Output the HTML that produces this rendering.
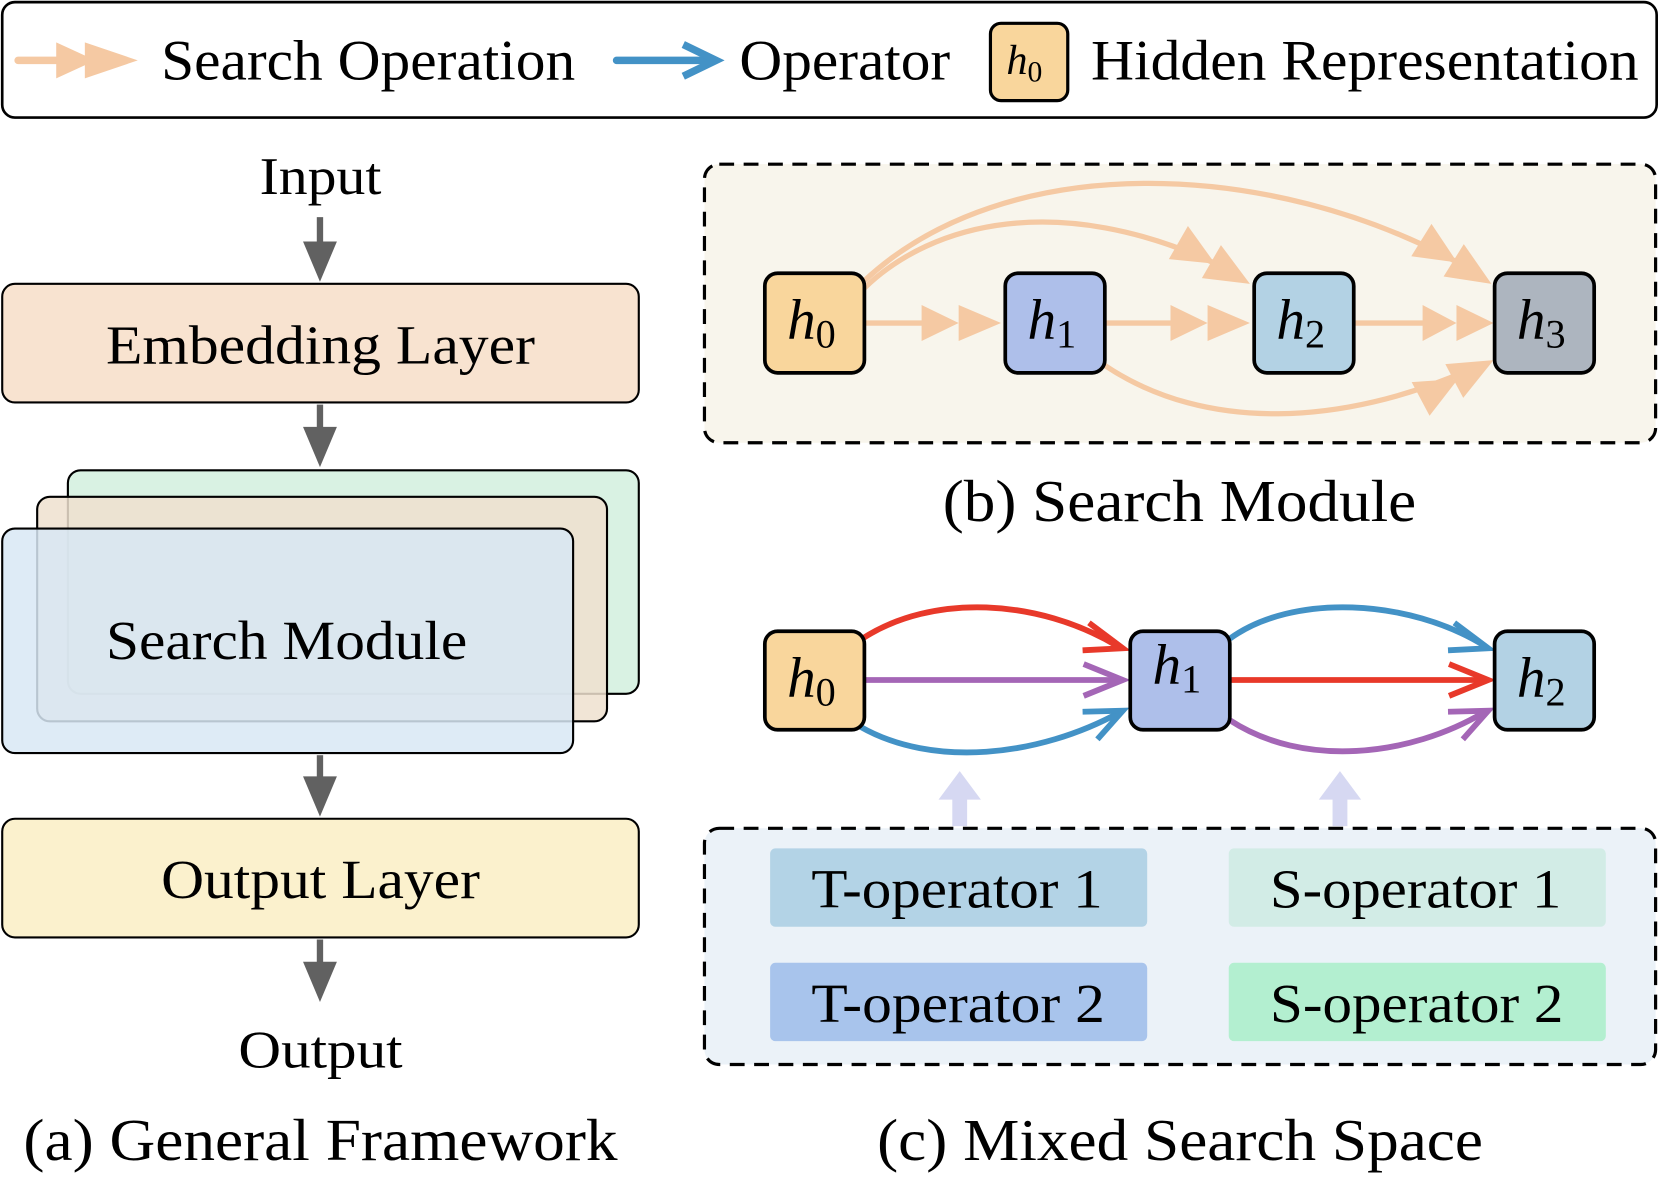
<!DOCTYPE html>
<html><head><meta charset="utf-8"><style>
html,body{margin:0;padding:0;background:#fff;}
svg{display:block;}
text{font-family:"Liberation Serif",serif;fill:#000;}
.it{font-style:italic;}
</style></head><body>
<svg width="1661" height="1199" viewBox="0 0 1568 1132" xmlns="http://www.w3.org/2000/svg">
<defs>
<g id="dbl"><polygon points="-78,-18 -38,0 -78,18" fill="#f5c9a3"/><polygon points="-42,-18 0,0 -42,18" fill="#f5c9a3"/></g>
</defs>
<!-- Legend -->
<rect x="2" y="2" width="1562" height="109" rx="12" fill="#fff" stroke="#000" stroke-width="2.5"/>
<line x1="17" y1="57" x2="60" y2="57" stroke="#f5c9a3" stroke-width="7" stroke-linecap="round"/>
<polygon points="53,40 90,57 53,74" fill="#f5c9a3"/>
<polygon points="80,40 130,57 80,74" fill="#f5c9a3"/>
<text x="152" y="75" font-size="54" textLength="391" lengthAdjust="spacingAndGlyphs">Search Operation</text>
<line x1="582" y1="57" x2="670" y2="57" stroke="#4392c6" stroke-width="7" stroke-linecap="round"/>
<polyline points="645,42 676,57 645,72" fill="none" stroke="#4392c6" stroke-width="7"/>
<text x="698" y="75" font-size="54" textLength="199" lengthAdjust="spacingAndGlyphs">Operator</text>
<rect x="935" y="22" width="73" height="73" rx="10" fill="#f9d69c" stroke="#000" stroke-width="3"/>
<text x="950" y="70" font-size="40" class="it">h<tspan font-size="28" font-style="normal" dy="7">0</tspan></text>
<text x="1030" y="75" font-size="54" textLength="517" lengthAdjust="spacingAndGlyphs">Hidden Representation</text>

<!-- (a) -->
<text x="245" y="183" font-size="50" textLength="115" lengthAdjust="spacingAndGlyphs">Input</text>
<g fill="#616161" stroke="#616161">
<line x1="302" y1="205" x2="302" y2="235" stroke-width="6"/><polygon points="286,228 318,228 302,266" stroke="none"/>
<line x1="302" y1="382" x2="302" y2="410" stroke-width="6"/><polygon points="286,403 318,403 302,441" stroke="none"/>
<line x1="302" y1="713" x2="302" y2="740" stroke-width="6"/><polygon points="286,733 318,733 302,771" stroke="none"/>
<line x1="302" y1="887" x2="302" y2="915" stroke-width="6"/><polygon points="286,908 318,908 302,946" stroke="none"/>
</g>
<rect x="2" y="268" width="601" height="112" rx="12" fill="#f8e3d0" stroke="#000" stroke-width="2"/>
<text x="100" y="343" font-size="52" textLength="405" lengthAdjust="spacingAndGlyphs">Embedding Layer</text>
<rect x="64" y="444" width="539" height="211" rx="12" fill="#d9f2e3" stroke="#000" stroke-width="2"/>
<rect x="35" y="469" width="538" height="212" rx="12" fill="#eee0cf" fill-opacity="0.85" stroke="#000" stroke-width="2"/>
<rect x="2" y="499" width="539" height="212" rx="12" fill="#d8e8f5" fill-opacity="0.85" stroke="#000" stroke-width="2"/>
<text x="100" y="622" font-size="52" textLength="341" lengthAdjust="spacingAndGlyphs">Search Module</text>
<rect x="2" y="773" width="601" height="112" rx="12" fill="#fbf1cd" stroke="#000" stroke-width="2"/>
<text x="152" y="848" font-size="52" textLength="301" lengthAdjust="spacingAndGlyphs">Output Layer</text>
<text x="225" y="1008" font-size="50" textLength="155" lengthAdjust="spacingAndGlyphs">Output</text>
<text x="22" y="1095" font-size="56" textLength="561" lengthAdjust="spacingAndGlyphs">(a) General Framework</text>

<!-- (b) -->
<rect x="665" y="155" width="898" height="263" rx="14" fill="#f8f5ec" stroke="#000" stroke-width="3" stroke-dasharray="14,9"/>
<g fill="none" stroke="#f5c9a3" stroke-width="5">
<line x1="816" y1="305" x2="880" y2="305"/>
<line x1="1043" y1="305" x2="1110" y2="305"/>
<line x1="1278" y1="305" x2="1345" y2="305"/>
<path d="M816,272 C880,210 1000,180 1150,250"/>
<path d="M816,265 C950,140 1200,150 1380,250"/>
<path d="M1043,345 C1140,410 1270,400 1385,350"/>
</g>
<g fill="#f5c9a3">
<polygon points="870,288 905,305 870,322"/><polygon points="905,288 945,305 905,322"/>
<polygon points="1105,288 1140,305 1105,322"/><polygon points="1140,288 1180,305 1140,322"/>
<polygon points="1343,288 1375,305 1343,322"/><polygon points="1375,288 1410,305 1375,322"/>
</g>
<use href="#dbl" transform="translate(1180,268) rotate(30)"/>
<use href="#dbl" transform="translate(1408,268) rotate(32)"/>
<use href="#dbl" transform="translate(1410,340) rotate(-28)"/>
<g stroke="#000" stroke-width="3.5">
<rect x="722" y="258" width="94" height="94" rx="12" fill="#f9d69c"/>
<rect x="949" y="258" width="94" height="94" rx="12" fill="#aebfea"/>
<rect x="1184" y="258" width="94" height="94" rx="12" fill="#b3d2e4"/>
<rect x="1411" y="258" width="94" height="94" rx="12" fill="#adb5bf"/>
</g>
<g font-size="54" class="it">
<text x="743" y="320">h<tspan font-size="38" font-style="normal" dy="8">0</tspan></text>
<text x="970" y="320">h<tspan font-size="38" font-style="normal" dy="8">1</tspan></text>
<text x="1205" y="320">h<tspan font-size="38" font-style="normal" dy="8">2</tspan></text>
<text x="1432" y="320">h<tspan font-size="38" font-style="normal" dy="8">3</tspan></text>
</g>
<text x="890" y="492" font-size="56" textLength="447" lengthAdjust="spacingAndGlyphs">(b) Search Module</text>

<!-- (c) -->
<g fill="none" stroke-width="5.5">
<path d="M814,603 C880,560 980,565 1055,610" stroke="#e8392a"/>
<polyline points="1028,588 1060,612 1022,614" stroke="#e8392a"/>
<line x1="816" y1="642" x2="1058" y2="642" stroke="#a466b6"/>
<polyline points="1023,627 1060,642 1023,657" stroke="#a466b6"/>
<path d="M812,686 C880,725 980,715 1058,672" stroke="#4392c6"/>
<polyline points="1022,672 1060,671 1036,698" stroke="#4392c6"/>
<path d="M1161,603 C1220,560 1330,565 1402,610" stroke="#4392c6"/>
<polyline points="1373,588 1405,612 1367,614" stroke="#4392c6"/>
<line x1="1161" y1="642" x2="1402" y2="642" stroke="#e8392a"/>
<polyline points="1368,627 1405,642 1368,657" stroke="#e8392a"/>
<path d="M1161,680 C1230,725 1330,715 1402,672" stroke="#a466b6"/>
<polyline points="1367,672 1405,671 1381,698" stroke="#a466b6"/>
</g>
<g fill="#d6d8f2">
<rect x="899" y="750" width="14" height="30"/><polygon points="886,755 926,755 906,728"/>
<rect x="1258" y="750" width="14" height="30"/><polygon points="1245,755 1285,755 1265,728"/>
</g>
<g stroke="#000" stroke-width="3.5">
<rect x="722" y="596" width="94" height="93" rx="12" fill="#f9d69c"/>
<rect x="1067" y="596" width="94" height="93" rx="12" fill="#aebfea"/>
<rect x="1411" y="596" width="94" height="93" rx="12" fill="#b3d2e4"/>
</g>
<g font-size="54" class="it">
<text x="743" y="658">h<tspan font-size="38" font-style="normal" dy="8">0</tspan></text>
<text x="1088" y="646">h<tspan font-size="38" font-style="normal" dy="8">1</tspan></text>
<text x="1432" y="658">h<tspan font-size="38" font-style="normal" dy="8">2</tspan></text>
</g>
<rect x="665" y="782" width="898" height="223" rx="14" fill="#ebf2f8" stroke="#000" stroke-width="3" stroke-dasharray="14,9"/>
<rect x="727" y="801" width="356" height="74" rx="5" fill="#b3d3e6"/>
<rect x="1160" y="801" width="356" height="74" rx="5" fill="#d2ece6"/>
<rect x="727" y="909" width="356" height="74" rx="5" fill="#a8c4ec"/>
<rect x="1160" y="909" width="356" height="74" rx="5" fill="#b3efd0"/>
<g font-size="52">
<text x="766" y="857" textLength="275" lengthAdjust="spacingAndGlyphs">T-operator 1</text>
<text x="1199" y="857" textLength="275" lengthAdjust="spacingAndGlyphs">S-operator 1</text>
<text x="766" y="965" textLength="277" lengthAdjust="spacingAndGlyphs">T-operator 2</text>
<text x="1199" y="965" textLength="277" lengthAdjust="spacingAndGlyphs">S-operator 2</text>
</g>
<text x="828" y="1095" font-size="56" textLength="572" lengthAdjust="spacingAndGlyphs">(c) Mixed Search Space</text>
</svg>
</body></html>
